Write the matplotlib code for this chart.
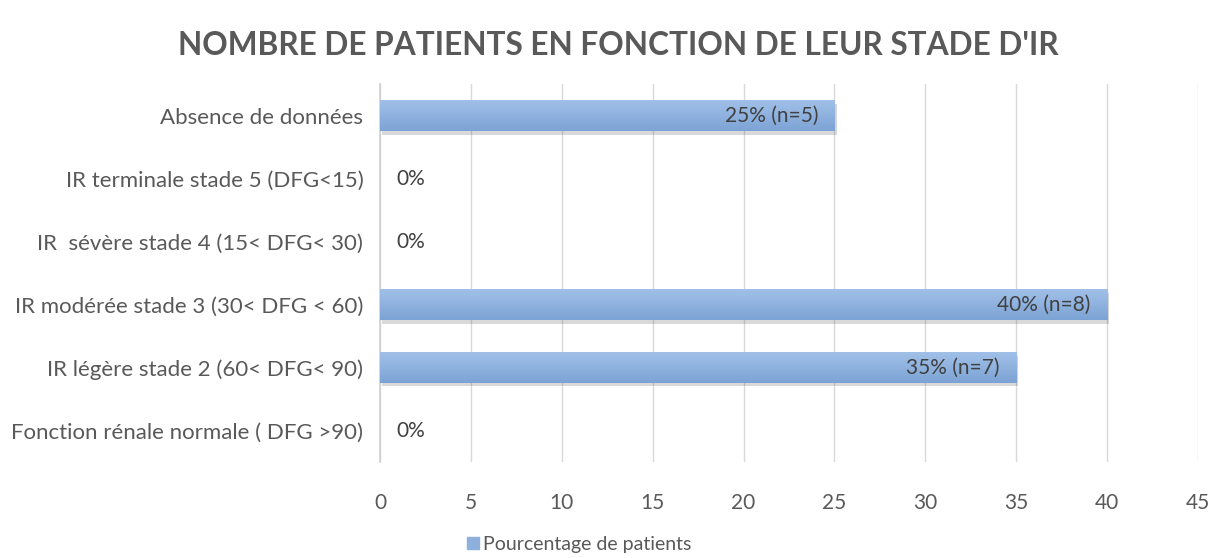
import matplotlib.pyplot as plt
import matplotlib.patheffects as pe
import numpy as np

categories = [
    "Fonction rénale normale ( DFG >90)",
    "IR légère stade 2 (60< DFG< 90)",
    "IR modérée stade 3 (30< DFG < 60)",
    "IR  sévère stade 4 (15< DFG< 30)",
    "IR terminale stade 5 (DFG<15)",
    "Absence de données",
]
values = [0, 35, 40, 0, 0, 25]
counts = [0, 7, 8, 0, 0, 5]
xticks = [0, 5, 10, 15, 20, 25, 30, 35, 40, 45]

plt.rcParams['font.family'] = ['Lato', 'DejaVu Sans']
grey = "#595959"


def main():
    fig = plt.figure(figsize=(12.12, 5.58), dpi=100)
    ax = fig.add_axes([0.3135, 0.172, 0.675, 0.677])

    y = np.arange(len(categories))
    h = 0.49
    bars = ax.barh(y, values, height=h, color="#8eb0dd", zorder=3,
                   path_effects=[pe.SimplePatchShadow(offset=(1.5, -2.5), alpha=0.18, shadow_rgbFace="#303030"), pe.Normal()])

    # degrade du haut (clair) vers le bas (fonce)
    grad = np.linspace(1, 0, 64).reshape(-1, 1)
    cmap = plt.matplotlib.colors.LinearSegmentedColormap.from_list("g", ["#a1c0e8", "#7ca3d5"])
    for b, v in zip(bars, values):
        if v > 0:
            x0, y0 = b.get_x(), b.get_y()
            im = ax.imshow(grad, extent=(x0, x0 + b.get_width(), y0, y0 + b.get_height()),
                           cmap=cmap, aspect="auto", zorder=4, origin="lower")
            im.set_clip_path(b)

    for yi, v, n in zip(y, values, counts):
        if v > 0:
            ax.text(v - 0.9, yi, "%d%% (n=%d)" % (v, n), ha="right", va="center",
                    fontsize=15, color="#404040", zorder=5)
        else:
            ax.text(0.9, yi, "0%", ha="left", va="center", fontsize=15, color="#404040", zorder=5)

    ax.set_xlim(0, 45)
    ax.set_ylim(-0.5, len(categories) - 0.5)
    ax.set_xticks(xticks)
    ax.set_yticks(y)
    ax.set_yticklabels(categories)
    ax.tick_params(axis="x", length=0, pad=22, labelsize=15, labelcolor=grey)
    ax.tick_params(axis="y", length=0, pad=12, labelsize=16, labelcolor=grey)
    ax.grid(axis="x", color="#d9d9d9", linewidth=1, zorder=0)
    for s in ["top", "right", "bottom"]:
        ax.spines[s].set_visible(False)
    ax.spines["left"].set_color("#d0d0d0")
    ax.spines["left"].set_linewidth(1.2)

    fig.text(0.51, 0.918, "NOMBRE DE PATIENTS EN FONCTION DE LEUR STADE D'IR",
             ha="center", va="center", fontsize=22.8, fontweight="bold", color=grey)

    handle = plt.Rectangle((0, 0), 1, 1, color="#8eb0dd")
    fig.legend([handle], ["Pourcentage de patients"], loc="center", bbox_to_anchor=(0.478, 0.025),
               frameon=False, fontsize=14, labelcolor=grey, handlelength=0.6, handleheight=0.6,
               handletextpad=0.2)

    plt.savefig("out.png")
    plt.close(fig)


if __name__ == "__main__":
    main()
